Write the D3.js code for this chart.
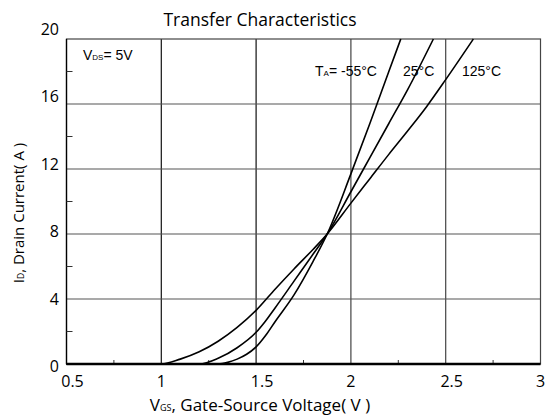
<html>
<head>
<meta charset="utf-8">
<style>
  body { margin: 0; background: white; }
  .lbl { font-family: "Open Sans", Lato, sans-serif; fill: #000; }
  .ann { font-family: "Liberation Sans", Arial, sans-serif; fill: #000; }
</style>
</head>
<body>
<div id="chart"></div>
<script src="https://cdnjs.cloudflare.com/ajax/libs/d3/7.8.5/d3.min.js"></script>
<script>
// data: Vgs (V) and Id (A) for each temperature
var vgsN55 = [0.5, 1.3, 1.35, 1.4, 1.45, 1.5, 1.55, 1.6, 1.7, 1.8, 1.875, 2.0, 2.1, 2.2, 2.263];
var idN55  = [0,   0,   0.1,  0.3, 0.6,  1.05, 1.75, 2.6, 4.25, 6.3, 8,   11.7, 14.8, 18.0, 20];
var vgs25  = [0.5, 1.2, 1.3, 1.4, 1.5, 1.55, 1.6, 1.7, 1.8, 1.875, 2.0, 2.1, 2.2, 2.3, 2.435];
var id25   = [0,   0,   0.35, 1.0, 1.95, 2.65, 3.45, 5.1, 6.75, 8,  10.6, 12.7, 14.8, 16.9, 20];
var vgs125 = [0.5, 1.0, 1.1, 1.2, 1.3, 1.4, 1.5, 1.6, 1.7, 1.8, 1.875, 2.0, 2.1, 2.2, 2.3, 2.4, 2.5, 2.646];
var id125  = [0,   0,   0.3, 0.75, 1.4, 2.25, 3.3, 4.6, 5.85, 7.05, 8,  9.9, 11.4, 12.9, 14.35, 15.85, 17.5, 20];

var xTicks = [0.5, 1, 1.5, 2, 2.5, 3];
var xTickLabels = ["0.5", "1", "1.5", "2", "2.5", "3"];
var yTicks = [0, 4, 8, 12, 16, 20];
var xMinor = [0.75, 1.25, 1.75, 2.25, 2.75];
var yMinor = [2, 6, 10, 14, 18];

var W = 545, H = 418;
var pL = 66.5, pR = 540.5, pT = 39, pB = 364;

var svg = d3.select("#chart").append("svg")
  .attr("width", W).attr("height", H);

var x = d3.scaleLinear().domain([0.5, 3]).range([pL, pR]);
var y = d3.scaleLinear().domain([0, 20]).range([pB, pT]);
// tick labels sit on a slightly stretched scale in the original
var yLab = d3.scaleLinear().domain([0, 20]).range([366, 29]);

// grid
svg.append("g").selectAll("line").data(xTicks.slice(1, -1)).enter().append("line")
  .attr("x1", d => x(d)).attr("x2", d => x(d))
  .attr("y1", pT).attr("y2", pB)
  .attr("stroke", d => d < 1.8 ? "#111" : "#444").attr("stroke-width", 1.2);
svg.append("g").selectAll("line").data(yTicks.slice(1, -1)).enter().append("line")
  .attr("x1", pL).attr("x2", pR)
  .attr("y1", d => y(d)).attr("y2", d => y(d))
  .attr("stroke", "#555").attr("stroke-width", 1.2);

// frame
svg.append("rect").attr("x", pL).attr("y", pT)
  .attr("width", pR - pL).attr("height", pB - pT)
  .attr("fill", "none").attr("stroke", "#444").attr("stroke-width", 1.2);
svg.append("line").attr("x1", pL).attr("x2", pL).attr("y1", pT).attr("y2", pB)
  .attr("stroke", "#000").attr("stroke-width", 1.3);

// minor ticks
svg.append("g").selectAll("line").data(yMinor).enter().append("line")
  .attr("x1", pL).attr("x2", pL + 6)
  .attr("y1", d => y(d)).attr("y2", d => y(d))
  .attr("stroke", "#333").attr("stroke-width", 1);
svg.append("g").selectAll("line").data(xMinor).enter().append("line")
  .attr("x1", d => x(d)).attr("x2", d => x(d))
  .attr("y1", pB).attr("y2", pB - 4)
  .attr("stroke", "#333").attr("stroke-width", 1);

// curves
var line = d3.line().x(d => x(d[0])).y(d => y(d[1])).curve(d3.curveMonotoneX);
[[vgsN55, idN55], [vgs25, id25], [vgs125, id125]].forEach(function(s) {
  svg.append("path")
    .datum(d3.zip(s[0], s[1]))
    .attr("d", line)
    .attr("fill", "none").attr("stroke", "#000").attr("stroke-width", 1.6);
});
svg.append("line").attr("x1", pL).attr("x2", pR).attr("y1", pB).attr("y2", pB)
  .attr("stroke", "#000").attr("stroke-width", 2.5);

// tick labels
svg.append("g").selectAll("text").data(yTicks).enter().append("text")
  .attr("class", "lbl")
  .attr("x", 59).attr("y", d => yLab(d) + 6)
  .attr("text-anchor", "end").attr("font-size", 16)
  .text(d => d);
svg.append("g").selectAll("text").data(xTicks).enter().append("text")
  .attr("class", "lbl")
  .attr("x", (d, i) => x(d) + (xTickLabels[i].length > 1 ? 6 : 0))
  .attr("y", 387)
  .attr("text-anchor", "middle").attr("font-size", 16)
  .text((d, i) => xTickLabels[i]);

// title and axis titles
svg.append("text").attr("class", "lbl")
  .attr("x", 260).attr("y", 26).attr("text-anchor", "middle").attr("font-size", 17.5)
  .text("Transfer  Characteristics");

var xt = svg.append("text").attr("class", "lbl")
  .attr("x", 260).attr("y", 411).attr("text-anchor", "middle").attr("font-size", 17);
xt.append("tspan").text("V");
xt.append("tspan").attr("font-size", 9).text("GS");
xt.append("tspan").text(", Gate-Source Voltage( V )");

var yt = svg.append("text").attr("class", "lbl")
  .attr("transform", "translate(24,213) rotate(-90)")
  .attr("text-anchor", "middle").attr("font-size", 15);
yt.append("tspan").text("I");
yt.append("tspan").attr("font-size", 8.5).text("D");
yt.append("tspan").text(", Drain Current( A )");

// annotations
var vds = svg.append("text").attr("class", "ann")
  .attr("x", 83).attr("y", 60).attr("font-size", 14);
vds.append("tspan").text("V");
vds.append("tspan").attr("font-size", 8).text("DS");
vds.append("tspan").text("= 5V");

var ta = svg.append("text").attr("class", "ann")
  .attr("x", 315).attr("y", 76).attr("font-size", 14);
ta.append("tspan").text("T");
ta.append("tspan").attr("font-size", 8).text("A");
ta.append("tspan").text("= -55°C");
svg.append("text").attr("class", "ann").attr("x", 403).attr("y", 76)
  .attr("font-size", 14).text("25°C");
svg.append("text").attr("class", "ann").attr("x", 462).attr("y", 76)
  .attr("font-size", 14).text("125°C");
</script>
</body>
</html>
